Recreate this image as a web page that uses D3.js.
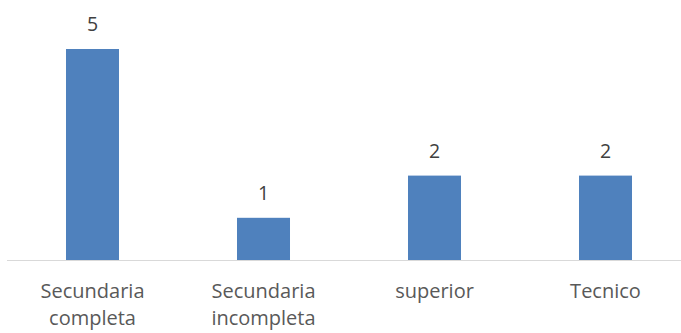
<!DOCTYPE html>
<html>
<head>
<meta charset="utf-8">
<script src="https://cdn.jsdelivr.net/npm/d3@7"></script>
<style>
  html, body { margin: 0; padding: 0; background: #fff; }
  svg { display: block; }
</style>
</head>
<body>
<svg id="chart" width="681" height="333"></svg>
<script>
// Nivel educativo: conteo por categoría
const categories = ["Secundaria completa", "Secundaria incompleta", "superior", "Tecnico"];
const values = [5, 1, 2, 2];

const svg = d3.select("#chart");
const W = 681, H = 333;
const baseY = 260;

const x = d3.scaleBand()
  .domain(categories)
  .range([7, 691])
  .paddingInner(0.69)
  .paddingOuter(0.345);

const y = d3.scaleLinear()
  .domain([0, 5])
  .range([baseY, 49]);

const font = "'Open Sans', 'Noto Sans', sans-serif";

// barras
svg.append("g")
  .selectAll("rect")
  .data(categories)
  .join("rect")
  .attr("x", d => x(d))
  .attr("width", x.bandwidth())
  .attr("y", (d, i) => y(values[i]))
  .attr("height", (d, i) => y(0) - y(values[i]))
  .attr("fill", "#4f81bd");

// eje horizontal
svg.append("line")
  .attr("x1", 7).attr("x2", W)
  .attr("y1", baseY + 0.5).attr("y2", baseY + 0.5)
  .attr("stroke", "#d9d9d9")
  .attr("stroke-width", 1);

// etiquetas de valor
svg.append("g")
  .selectAll("text")
  .data(categories)
  .join("text")
  .attr("x", d => x(d) + x.bandwidth() / 2)
  .attr("y", (d, i) => y(values[i]) - 18)
  .attr("text-anchor", "middle")
  .attr("font-family", font)
  .attr("font-size", 19.5)
  .attr("fill", "#404040")
  .text((d, i) => values[i]);

// etiquetas de categoría (dos líneas como máximo)
const labels = svg.append("g")
  .selectAll("text")
  .data(categories)
  .join("text")
  .attr("x", d => x(d) + x.bandwidth() / 2)
  .attr("y", 298)
  .attr("text-anchor", "middle")
  .attr("font-family", font)
  .attr("font-size", 20)
  .attr("fill", "#595959");

labels.each(function(d) {
  const words = d.split(" ");
  const t = d3.select(this);
  words.forEach((w, i) => {
    t.append("tspan")
      .attr("x", x(d) + x.bandwidth() / 2)
      .attr("dy", i === 0 ? 0 : 27)
      .text(w);
  });
});
</script>
</body>
</html>
